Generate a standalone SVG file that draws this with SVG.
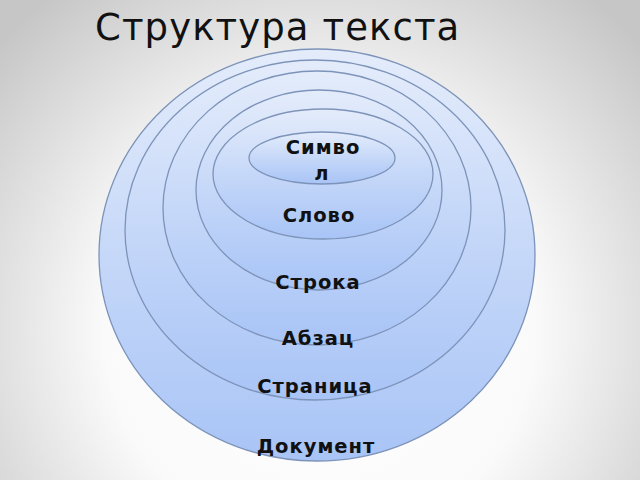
<svg xmlns="http://www.w3.org/2000/svg" width="640" height="480" viewBox="0 0 640 480">
<defs>
<radialGradient id="bg" cx="320" cy="330" r="430" gradientUnits="userSpaceOnUse">
<stop offset="0" stop-color="#ffffff"/>
<stop offset="0.5" stop-color="#fafafa"/>
<stop offset="1" stop-color="#c6c6c6"/>
</radialGradient>
<linearGradient id="fill" x1="0" y1="0" x2="0" y2="1">
<stop offset="0" stop-color="#e4ecfb"/>
<stop offset="1" stop-color="#a8c4f6"/>
</linearGradient>
<style>
.ring{fill:url(#fill);stroke:#7d93b9;stroke-width:1.3}
.lbl{font-family:"DejaVu Sans",Verdana,sans-serif;font-weight:bold;font-size:19.5px;fill:#111;text-anchor:middle;letter-spacing:1px}
.title{font-family:"DejaVu Sans",Verdana,sans-serif;font-size:37px;fill:#111;letter-spacing:1.1px}
</style>
</defs>
<rect width="640" height="480" fill="url(#bg)"/>
<text class="title" x="95" y="40">Структура текста</text>
<g id="document"><ellipse class="ring" cx="317" cy="255" rx="218" ry="206"/></g>
<g id="page"><ellipse class="ring" cx="315" cy="230" rx="190" ry="170"/></g>
<g id="paragraph"><ellipse class="ring" cx="317" cy="208" rx="154" ry="137"/></g>
<g id="line"><ellipse class="ring" cx="319" cy="190" rx="123" ry="100"/></g>
<g id="word"><ellipse class="ring" cx="323" cy="174" rx="110" ry="65"/></g>
<g id="symbol"><ellipse class="ring" cx="322" cy="158" rx="73" ry="26"/></g>
<g id="labels">
<text class="lbl" x="323" y="154">Симво</text>
<text class="lbl" x="322" y="180">л</text>
<text class="lbl" x="319" y="222">Слово</text>
<text class="lbl" x="318" y="289">Строка</text>
<text class="lbl" x="318" y="345">Абзац</text>
<text class="lbl" x="315" y="393">Страница</text>
<text class="lbl" x="316" y="453">Документ</text>
</g>
</svg>
